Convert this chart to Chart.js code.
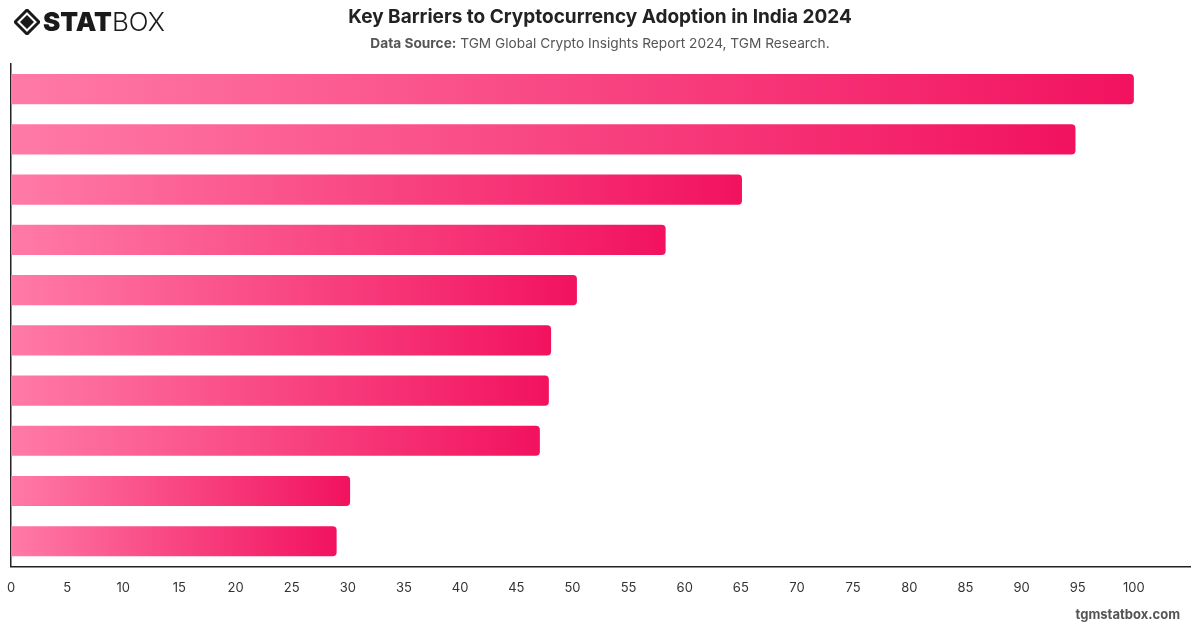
<!DOCTYPE html>
<html>
  <head>
    <meta charset="utf-8" />
    <title>Key Barriers to Cryptocurrency Adoption in India 2024</title>
    <script src="https://cdn.jsdelivr.net/npm/chart.js"></script>
    <style>
      body { margin: 0; background: #fff; font-family: Inter, "Liberation Sans", sans-serif; }
      #wrap { position: relative; width: 1200px; height: 628px; overflow: hidden; }
      #myChart { position: absolute; left: 0; top: 0; }
      .logo { position: absolute; left: 14px; top: 6px; display: flex; align-items: center; color: #1a1a1a; }
      .logo b { font-size: 26px; font-weight: 900; letter-spacing: 0px; margin-left: 3px; }
      .logo span { font-size: 26px; font-weight: 300; }
      .title { position: absolute; left: 0; width: 1200px; top: 5px; text-align: center; font-size: 19px; font-weight: 700; color: #222; }
      .sub { position: absolute; left: 0; width: 1200px; top: 35px; text-align: center; font-size: 13.7px; color: #555; }
      .sub b { color: #555; }
      .foot { position: absolute; right: 20px; top: 606px; font-size: 13px; font-weight: 700; color: #555; }
    </style>
  </head>
  <body>
    <div id="wrap">
      <canvas id="myChart" width="1200" height="628"></canvas>
      <div class="logo">
        <svg width="26" height="26" viewBox="0 0 26 26">
          <path d="M13 1 L25 13 L13 25 L1 13 Z" fill="none" stroke="#1a1a1a" stroke-width="3" />
          <path d="M13 6 L20 13 L13 20 L6 13 Z" fill="#1a1a1a" />
        </svg>
        <b>STAT</b><span>BOX</span>
      </div>
      <div class="title">Key Barriers to Cryptocurrency Adoption in India 2024</div>
      <div class="sub"><b>Data Source:</b> TGM Global Crypto Insights Report 2024, TGM Research.</div>
      <div class="foot">tgmstatbox.com</div>
    </div>

    <script>
      // categories are not printed on the chart, kept for reference
      const labels = [
        "Security concerns",
        "Regulatory uncertainty",
        "Price volatility",
        "Lack of knowledge",
        "Scams and fraud",
        "Complexity of use",
        "Lack of trust",
        "Tax implications",
        "Limited acceptance",
        "High fees",
      ];
      const values = [100, 94.8, 65.1, 58.3, 50.4, 48.1, 47.9, 47.1, 30.2, 29.0];
      const xTicks = [0, 5, 10, 15, 20, 25, 30, 35, 40, 45, 50, 55, 60, 65, 70, 75, 80, 85, 90, 95, 100];

      function barGradient(context) {
        const chart = context.chart;
        const area = chart.chartArea;
        if (!area) return "#f5226a";
        const x = chart.scales.x;
        const x0 = x.getPixelForValue(0);
        const x1 = x.getPixelForValue(values[context.dataIndex]);
        const g = chart.ctx.createLinearGradient(x0, 0, x1, 0);
        g.addColorStop(0, "#ff7aa7");
        g.addColorStop(1, "#f2125f");
        return g;
      }

      const config = {
        type: "bar",
        data: {
          labels: labels,
          datasets: [
            {
              data: values,
              backgroundColor: barGradient,
              borderRadius: 4,
              borderSkipped: "start",
              barPercentage: 0.6,
              categoryPercentage: 1,
            },
          ],
        },
        options: {
          indexAxis: "y",
          responsive: false,
          animation: false,
          layout: { padding: { left: 11, right: 10, top: 64, bottom: 18 } },
          plugins: {
            legend: { display: false },
            tooltip: { enabled: false },
          },
          scales: {
            x: {
              min: 0,
              max: 105,
              grid: { display: false, drawTicks: false },
              border: { display: true, color: "#222", width: 1.5 },
              afterBuildTicks: (axis) => {
                axis.ticks = xTicks.map((v) => ({ value: v }));
              },
              afterFit: (axis) => {
                axis.paddingLeft = 0;
                axis.paddingRight = 0;
              },
              ticks: {
                padding: 14,
                color: "#333",
                font: { family: "Inter, 'Liberation Sans', sans-serif", size: 13 },
              },
            },
            y: {
              grid: { display: false, drawTicks: false },
              border: { display: true, color: "#222", width: 1.5 },
              ticks: { display: false },
              afterFit: (axis) => {
                axis.width = 0;
              },
            },
          },
        },
      };

      const myChart = new Chart(document.getElementById("myChart"), config);
    </script>
  </body>
</html>
